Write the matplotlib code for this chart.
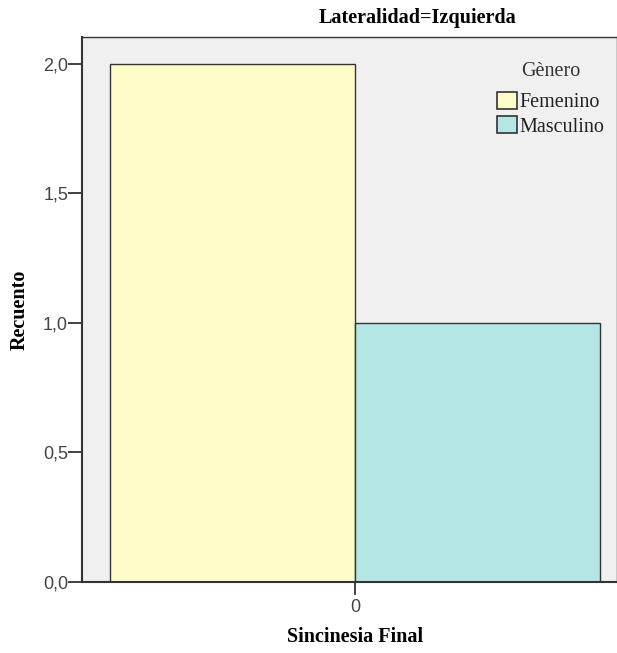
import matplotlib
matplotlib.use("Agg")
import matplotlib.pyplot as plt
from matplotlib.patches import Patch

categories = ["0"]
series_names = ["Femenino", "Masculino"]
counts = {"Femenino": [2.0], "Masculino": [1.0]}
colors = {"Femenino": "#FEFDC9", "Masculino": "#B4E6E6"}
yticks = [0.0, 0.5, 1.0, 1.5, 2.0]
ytick_labels = ["0,0", "0,5", "1,0", "1,5", "2,0"]

fig = plt.figure(figsize=(6.17, 6.53), dpi=100)
ax = fig.add_axes([82/617, 1-582/653, 1-82/617, (582-37)/653])
ax.set_facecolor("#F0F0F0")

w = 1.0
for i, cat in enumerate(categories):
    ax.bar(i - w/2, counts["Femenino"][i], width=w, color=colors["Femenino"],
           edgecolor="#333333", linewidth=1.0, zorder=2)
    ax.bar(i + w/2, counts["Masculino"][i], width=w, color=colors["Masculino"],
           edgecolor="#333333", linewidth=1.0, zorder=2)

ax.set_xlim(-1.114, 1.069)
ax.set_ylim(0, 2.104)
ax.set_xticks(range(len(categories)))
ax.set_xticklabels(categories)
ax.set_yticks(yticks)
ax.set_yticklabels(ytick_labels)
ax.tick_params(axis="y", length=10, width=1.3, pad=0)
ax.tick_params(axis="x", length=9, width=1.3, pad=3)
ax.tick_params(axis="both", labelsize=13, color="#333333", labelcolor="#444444")
for lab in ax.get_xticklabels() + ax.get_yticklabels():
    lab.set_family("Liberation Sans")
for s in ["left", "bottom"]:
    ax.spines[s].set_color("#333333")
    ax.spines[s].set_linewidth(1.5)
for s in ["top", "right"]:
    ax.spines[s].set_color("#333333")
    ax.spines[s].set_linewidth(1.0)

ax.set_xlabel("Sincinesia Final", family="Liberation Serif", fontweight="bold",
              fontsize=14.5, va="center", ha="center")
ax.xaxis.set_label_coords((355-82)/535, (582-637)/545)
ax.set_ylabel("Recuento", family="Liberation Serif", fontweight="bold",
              fontsize=14.5, va="center", ha="center")
ax.yaxis.set_label_coords((20-82)/535, (582-310)/545)
fig.text(418/617, 1-18/653, "Lateralidad=Izquierda", family="Liberation Serif",
         fontweight="bold", fontsize=14.5, ha="center", va="center")

handles = [Patch(facecolor=colors[n], edgecolor="#333333", linewidth=1.2, label=n)
           for n in series_names]
leg = ax.legend(handles=handles, title="Gènero", loc="upper right",
                bbox_to_anchor=((604-82)/535, (582-62)/545), frameon=False,
                prop={"family": "Liberation Serif", "size": 14.5},
                title_fontproperties={"family": "Liberation Serif", "size": 14.5},
                handlelength=1.0, handleheight=0.9, handletextpad=0.1,
                labelspacing=0.2, borderaxespad=0.0, borderpad=0.0)
leg.get_title().set_color("#333333")
leg._legend_box.sep = 8
for t in leg.get_texts():
    t.set_color("#222222")

fig.savefig("out.png", dpi=100)
